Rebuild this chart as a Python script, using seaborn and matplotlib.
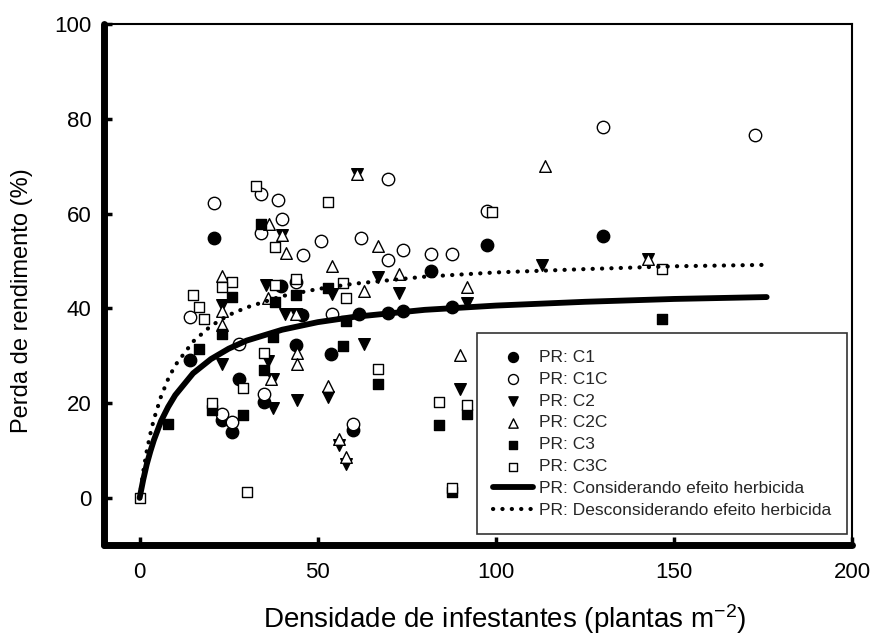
import numpy as np
import pandas as pd
import matplotlib
matplotlib.use("Agg")
import matplotlib.pyplot as plt
import seaborn as sns

# ---------------- data ----------------
c1_x = [20.8, 130, 97.6, 81.9, 73.8, 87.8, 61.7, 69.8, 45.7, 39.8, 14, 28, 23, 26, 44, 34.8, 53.8, 59.8]
c1_y = [54.9, 55.3, 53.4, 47.9, 39.4, 40.3, 38.8, 39.0, 38.6, 44.7, 29.2, 25.2, 16.5, 14.0, 32.2, 20.3, 30.3, 14.4]

c1c_x = [20.8, 130, 172.8, 69.8, 97.6, 34, 34, 38.8, 39.9, 50.8, 45.8, 62, 69.8, 73.8, 81.9, 87.8, 53.9, 44, 14, 28, 23, 26, 34.8, 59.8]
c1c_y = [62.3, 78.4, 76.7, 67.4, 60.6, 64.2, 55.9, 62.9, 58.9, 54.2, 51.3, 54.9, 50.2, 52.3, 51.4, 51.5, 38.8, 45.5, 38.1, 32.4, 17.8, 16.1, 22.0, 15.5]

c2_x = [60.9, 39.9, 142.8, 66.8, 72.9, 35.6, 53.9, 40.7, 113, 92, 23, 23, 36, 37.3, 37.3, 44.3, 62.9, 90, 53, 55.9, 58, 44]
c2_y = [68.4, 55.5, 50.4, 46.6, 43.2, 44.9, 43.0, 38.8, 49.2, 41.1, 40.7, 28.2, 28.8, 25.2, 18.9, 20.6, 32.4, 22.9, 21.4, 11.2, 7.2, 38.8]

c2c_x = [113.9, 60.9, 39.9, 142.8, 36.3, 41, 53.9, 66.8, 62.9, 72.9, 92, 90, 23, 23, 23, 36, 44.3, 44.3, 37, 53, 55.9, 58, 44]
c2c_y = [70.1, 68.4, 55.5, 50.4, 57.8, 51.7, 48.9, 53.2, 43.6, 47.2, 44.5, 30.1, 46.8, 39.4, 36.6, 42.2, 30.6, 28.3, 25.0, 23.7, 12.5, 8.7, 38.8]

c3_x = [34, 26, 38, 44, 53, 58, 146.7, 16.8, 23, 7.9, 20.2, 29, 34.8, 37.3, 57, 67, 83.9, 92, 87.8]
c3_y = [57.8, 42.4, 41.3, 42.8, 44.3, 37.3, 37.7, 31.4, 34.7, 15.5, 18.6, 17.5, 26.9, 33.9, 32.0, 24.1, 15.3, 17.8, 1.3]

c3c_x = [0, 32.8, 53, 98.8, 146.7, 37.9, 37.9, 44, 57, 58, 26, 23, 14.9, 16.8, 18, 34.8, 29, 20.2, 30, 67, 83.9, 92, 87.8]
c3c_y = [0, 65.9, 62.5, 60.4, 48.3, 53.0, 44.9, 46.2, 45.3, 42.2, 45.6, 44.5, 42.8, 40.3, 37.7, 30.5, 23.3, 20.1, 1.3, 27.3, 20.3, 19.7, 2.1]

# fitted curves, values
curve_x = [0, 1, 2, 3, 4, 6, 8, 10, 15, 20, 25, 30, 40, 50, 60, 80, 100, 125, 150, 176]
curve_com = [0, 3.8, 7.1, 9.8, 12.2, 16.2, 19.2, 21.7, 26.3, 29.3, 31.5, 33.2, 35.5, 37.1, 38.2, 39.7, 40.6, 41.4, 42.0, 42.4]
curve_sem = [0, 5.5, 9.9, 13.5, 16.6, 21.4, 25.1, 28.0, 33.0, 36.3, 38.6, 40.2, 42.6, 44.1, 45.2, 46.7, 47.6, 48.3, 48.9, 49.2]

series_labels = ["PR: C1", "PR: C1C", "PR: C2", "PR: C2C", "PR: C3", "PR: C3C"]
line_labels = ["PR: Considerando efeito herbicida", "PR: Desconsiderando efeito herbicida"]
x_label = "Densidade de infestantes (plantas m$^{\\mathregular{-2}}$)"
y_label = "Perda de rendimento (%)"
x_ticks = [0, 50, 100, 150, 200]
y_ticks = [0, 20, 40, 60, 80, 100]

# ---------------- style ----------------
sns.set_theme(style="white")
plt.rcParams['font.family'] = ['Liberation Sans', 'DejaVu Sans']
plt.rcParams['mathtext.fontset'] = 'custom'
plt.rcParams['mathtext.rm'] = 'Liberation Sans'
plt.rcParams['mathtext.it'] = 'Liberation Sans:italic'
plt.rcParams['mathtext.bf'] = 'Liberation Sans:bold'

fig, ax = plt.subplots(figsize=(8.74, 6.37), dpi=100)
fig.subplots_adjust(left=0.119, right=0.975, top=0.962, bottom=0.144)

data_sets = [
    (c1_x, c1_y, "o", "black", 80),
    (c1c_x, c1c_y, "o", "white", 80),
    (c2_x, c2_y, "v", "black", 70),
    (c2c_x, c2c_y, "^", "white", 70),
    (c3_x, c3_y, "s", "black", 58),
    (c3c_x, c3c_y, "s", "white", 58),
]
for (xs, ys, m, fc, s), lab in zip(data_sets, series_labels):
    df = pd.DataFrame({"x": xs, "y": ys})
    sns.scatterplot(data=df, x="x", y="y", ax=ax, marker=m, s=s,
                    facecolor=fc, edgecolor="black", linewidth=1.0,
                    label=lab, zorder=3)

cdf = pd.DataFrame({"x": curve_x, "com": curve_com, "sem": curve_sem})
sns.lineplot(data=cdf, x="x", y="com", ax=ax, color="black", lw=4.2,
             solid_capstyle="round", label=line_labels[0], zorder=4)
sns.lineplot(data=cdf, x="x", y="sem", ax=ax, color="black", lw=3,
             linestyle=(0, (0.05, 2.2)), dash_capstyle="round",
             label=line_labels[1], zorder=4)

ax.set_xlim(-10, 200)
ax.set_ylim(-10, 100)
ax.set_xticks(x_ticks)
ax.set_yticks(y_ticks)
ax.set_xticklabels([str(v) for v in x_ticks])
ax.set_yticklabels([str(v) for v in y_ticks])

for side in ["left", "bottom"]:
    ax.spines[side].set_linewidth(5)
    ax.spines[side].set_color("black")
    ax.spines[side].set_capstyle("round")
for side in ["top", "right"]:
    ax.spines[side].set_linewidth(1.5)
    ax.spines[side].set_color("black")

ax.tick_params(axis="both", which="major", direction="in", length=6, width=2.5,
               colors="black", labelsize=16, bottom=True, left=True, top=False, right=False)
ax.tick_params(axis="y", pad=9)
ax.tick_params(axis="x", pad=12)

ax.set_xlabel(x_label, fontsize=20, color="black")
ax.set_ylabel(y_label, fontsize=17, color="black")
ax.xaxis.set_label_coords(0.535, -0.11)
ax.yaxis.set_label_coords(-0.095, 0.47)

leg = ax.legend(loc="lower right", bbox_to_anchor=(0.9933, 0.0211), borderaxespad=0,
                frameon=True, fancybox=False, edgecolor="black", fontsize=12.5,
                markerscale=0.8, handlelength=2.3, labelspacing=0.39, handletextpad=0.35,
                borderpad=0.93)
leg.get_frame().set_linewidth(1.2)
leg.set_zorder(10)

fig.savefig("out.png", dpi=100)
